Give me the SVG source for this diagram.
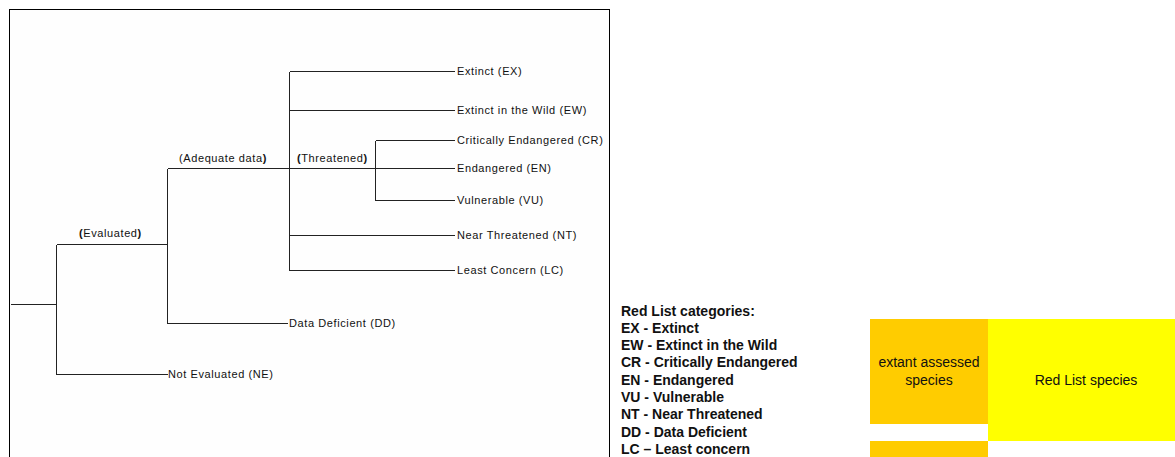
<svg xmlns="http://www.w3.org/2000/svg" width="1175" height="457" viewBox="0 0 1175 457">
<style>
.ln{stroke:#222;stroke-width:1;fill:none;shape-rendering:crispEdges}
.t{font-family:"Liberation Sans",Arial,sans-serif;font-size:11px;letter-spacing:0.6px;fill:#111}
.lg{font-family:"Liberation Sans",Arial,sans-serif;font-size:14px;font-weight:bold;fill:#111}
.bx{font-family:"Liberation Sans",Arial,sans-serif;font-size:14px;fill:#111;text-anchor:middle}
</style>
<rect x="0" y="0" width="1175" height="457" fill="#fff"/>
<rect id="frame" x="9.5" y="9.5" width="600" height="460" fill="#fefefe" stroke="#000" stroke-width="1"/>
<g id="connectors">
<path class="ln" d="M10.5 304.5H56.5M56.5 244.5V374.5M56.5 244.5H167.5M56.5 374.5H167.5"/>
<path class="ln" d="M167.5 168.5V323.5M167.5 168.5H455M167.5 323.5H288"/>
<path class="ln" d="M289.5 71.5V270.5M289.5 71.5H455M289.5 110.5H455M289.5 235.5H455M289.5 270.5H455"/>
<path class="ln" d="M375.5 140.5V200.5M375.5 140.5H455M375.5 200.5H455"/>
</g>
<g id="n-ev"><text class="t" x="79" y="237"><tspan font-weight="bold">(</tspan>Evaluated<tspan font-weight="bold">)</tspan></text></g>
<g id="n-ad"><text class="t" x="179" y="162">(Adequate data<tspan font-weight="bold">)</tspan></text></g>
<g id="n-th"><text class="t" x="297" y="162"><tspan font-weight="bold">(</tspan>Threatened<tspan font-weight="bold">)</tspan></text></g>
<g id="n-ex"><text class="t" x="457" y="75">Extinct (EX)</text></g>
<g id="n-ew"><text class="t" x="457" y="114">Extinct in the Wild (EW)</text></g>
<g id="n-cr"><text class="t" x="457" y="144">Critically Endangered (CR)</text></g>
<g id="n-en"><text class="t" x="457" y="172">Endangered (EN)</text></g>
<g id="n-vu"><text class="t" x="457" y="204">Vulnerable (VU)</text></g>
<g id="n-nt"><text class="t" x="457" y="239">Near Threatened (NT)</text></g>
<g id="n-lc"><text class="t" x="457" y="274">Least Concern (LC)</text></g>
<g id="n-dd"><text class="t" x="289" y="327">Data Deficient (DD)</text></g>
<g id="n-ne"><text class="t" x="168" y="378">Not Evaluated (NE)</text></g>
<g id="legend">
<text class="lg" x="621" y="316">Red List categories:</text>
<text class="lg" x="621" y="333">EX - Extinct</text>
<text class="lg" x="621" y="350">EW - Extinct in the Wild</text>
<text class="lg" x="621" y="367">CR - Critically Endangered</text>
<text class="lg" x="621" y="385">EN - Endangered</text>
<text class="lg" x="621" y="402">VU - Vulnerable</text>
<text class="lg" x="621" y="419">NT - Near Threatened</text>
<text class="lg" x="621" y="437">DD - Data Deficient</text>
<text class="lg" x="621" y="454">LC – Least concern</text>
</g>
<g id="box-extant">
<rect x="870" y="319" width="118" height="105" fill="#ffcc00"/>
<text class="bx" x="929" y="367">extant assessed</text>
<text class="bx" x="929" y="385">species</text>
</g>
<g id="box-redlist">
<rect x="988" y="319" width="187" height="122" fill="#ffff00"/>
<text class="bx" x="1086" y="385">Red List species</text>
</g>
<g id="box-lower"><rect x="870" y="441" width="118" height="16" fill="#ffcc00"/></g>
</svg>
